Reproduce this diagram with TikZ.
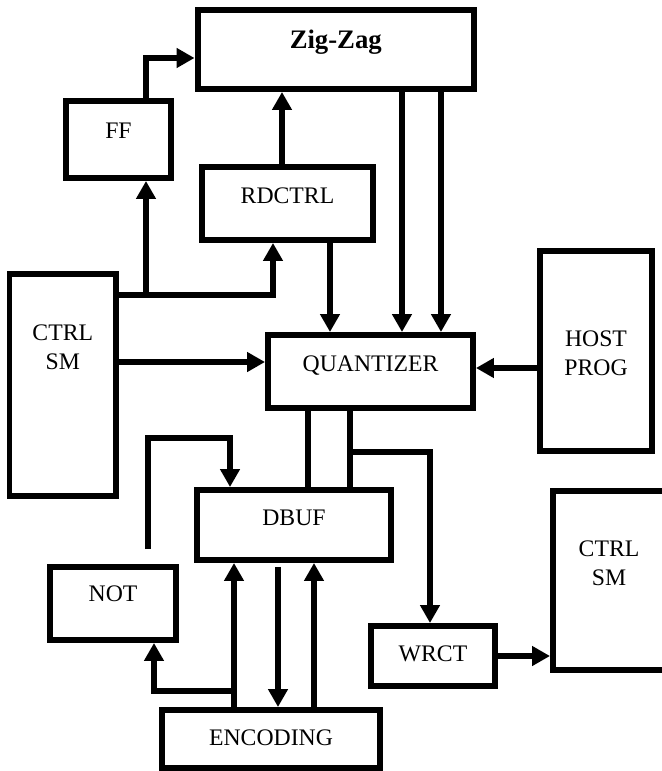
\documentclass[tikz,border=0pt]{standalone}
\usepackage{fontspec}
\setmainfont{Liberation Serif}
\usetikzlibrary{arrows.meta}
\tikzset{
    base/.style={draw, line width=3.4pt, align=center, font=\fontsize{13.5}{16.5}\selectfont},
    box/.style={base, rectangle, text height=0.4cm},
    arrow/.style={-{Triangle[length=0.36cm, width=0.38cm]}, line width=3.4pt},
    line/.style={draw, line width=3.4pt}
}
\begin{document}
\begin{tikzpicture}[x=0.02cm, y=-0.02cm]
    \useasboundingbox (0,0) rectangle (662,771);
    % Nodes
    \node [box, minimum width=5.53cm, minimum height=1.58cm, text depth=0.43cm, font=\fontsize{15.2}{18}\selectfont\bfseries] (zigzag) at (335.75,49.5) {Zig-Zag};
    \node [box, minimum width=2.1cm, minimum height=1.54cm, text depth=0.46cm] (ff) at (118.5,139.5) {FF};
    \node [box, minimum width=3.42cm, minimum height=1.46cm, text depth=0.42cm] (rdctrl) at (287.5,203.5) {RDCTRL};
    \node [box, minimum width=2.13cm, minimum height=4.44cm, text depth=1.04cm] (ctrla) at (62.75,385) {CTRL\\SM};
    \node [box, minimum width=4.1cm, minimum height=1.46cm, text depth=0.42cm] (quant) at (370.5,371.5) {QUANTIZER};
    \node [box, minimum width=2.24cm, minimum height=4cm, text height=1.36cm, text depth=0.4cm] (host) at (596,351) {HOST\\PROG};
    \node [box, minimum width=3.88cm, minimum height=1.4cm, text depth=0.4cm] (dbuf) at (294,525) {DBUF};
    \node [box, minimum width=2.52cm, minimum height=1.46cm, text depth=0.5cm] (not) at (113,603.5) {NOT};
    \node [box, minimum width=2.48cm, minimum height=1.2cm, text depth=0.2cm] (wrct) at (433,656) {WRCT};
    \node [box, minimum width=2.24cm, minimum height=3.58cm, text depth=0.22cm] (ctrlb) at (609,580.5) {CTRL\\SM};
    \node [box, minimum width=4.36cm, minimum height=1.16cm, text depth=0.16cm] (enc) at (271,739) {ENCODING};

    % Taps and loose ends
    \coordinate (bus) at ([yshift=1.8cm]ctrla.east);
    \coordinate (qtap) at ([xshift=-0.41cm, yshift=-0.82cm]quant.south);
    \coordinate (loose) at (148,549);
    \coordinate (nottap) at ([xshift=-0.74cm, yshift=0.32cm]enc.north);

    % Connections
    \draw [arrow] ([xshift=0.55cm]ff.north) |- ([yshift=-0.17cm]zigzag.west);
    \draw [arrow] ([xshift=-0.11cm]rdctrl.north) -- ([xshift=-0.11cm]rdctrl.north |- zigzag.south);
    \draw [arrow] (bus) -| ([xshift=-0.29cm]rdctrl.south);
    \draw [arrow] ([xshift=0.55cm]ff.south |- bus) -- ([xshift=0.55cm]ff.south);
    \draw [arrow] ([yshift=0.46cm]ctrla.east) -- ([yshift=0.46cm]ctrla.east -| quant.west);

    \draw [arrow] ([xshift=0.85cm]rdctrl.south) -- ([xshift=0.85cm]rdctrl.south |- quant.north);
    \draw [arrow] ([xshift=1.325cm]zigzag.south) -- ([xshift=1.325cm]zigzag.south |- quant.north);
    \draw [arrow] ([xshift=2.105cm]zigzag.south) -- ([xshift=2.105cm]zigzag.south |- quant.north);
    \draw [arrow] ([yshift=-0.34cm]host.west) -- ([yshift=-0.34cm]host.west -| quant.east);

    \draw [line] ([xshift=-1.25cm]quant.south) -- ([xshift=-1.25cm]quant.south |- dbuf.north);
    \draw [line] ([xshift=-0.41cm]quant.south) -- ([xshift=-0.41cm]quant.south |- dbuf.north);
    \draw [arrow] (qtap) -| ([xshift=-0.06cm]wrct.north);
    \draw [arrow] (wrct.east) -- (wrct.east -| ctrlb.west);

    \draw [arrow] (loose) |- ([xshift=-1.28cm, yshift=0.98cm]dbuf.north) -- ([xshift=-1.28cm]dbuf.north);
    \draw [arrow] ([xshift=-0.74cm]enc.north) -- ([xshift=-0.74cm]enc.north |- dbuf.south);
    \draw [arrow] ([xshift=0.86cm]enc.north) -- ([xshift=0.86cm]enc.north |- dbuf.south);
    \draw [arrow, shorten <=0.08cm] ([xshift=-0.32cm]dbuf.south) -- ([xshift=-0.32cm]dbuf.south |- enc.north);
    \draw [arrow] (nottap) -| ([xshift=0.82cm]not.south);
\end{tikzpicture}
\end{document}
